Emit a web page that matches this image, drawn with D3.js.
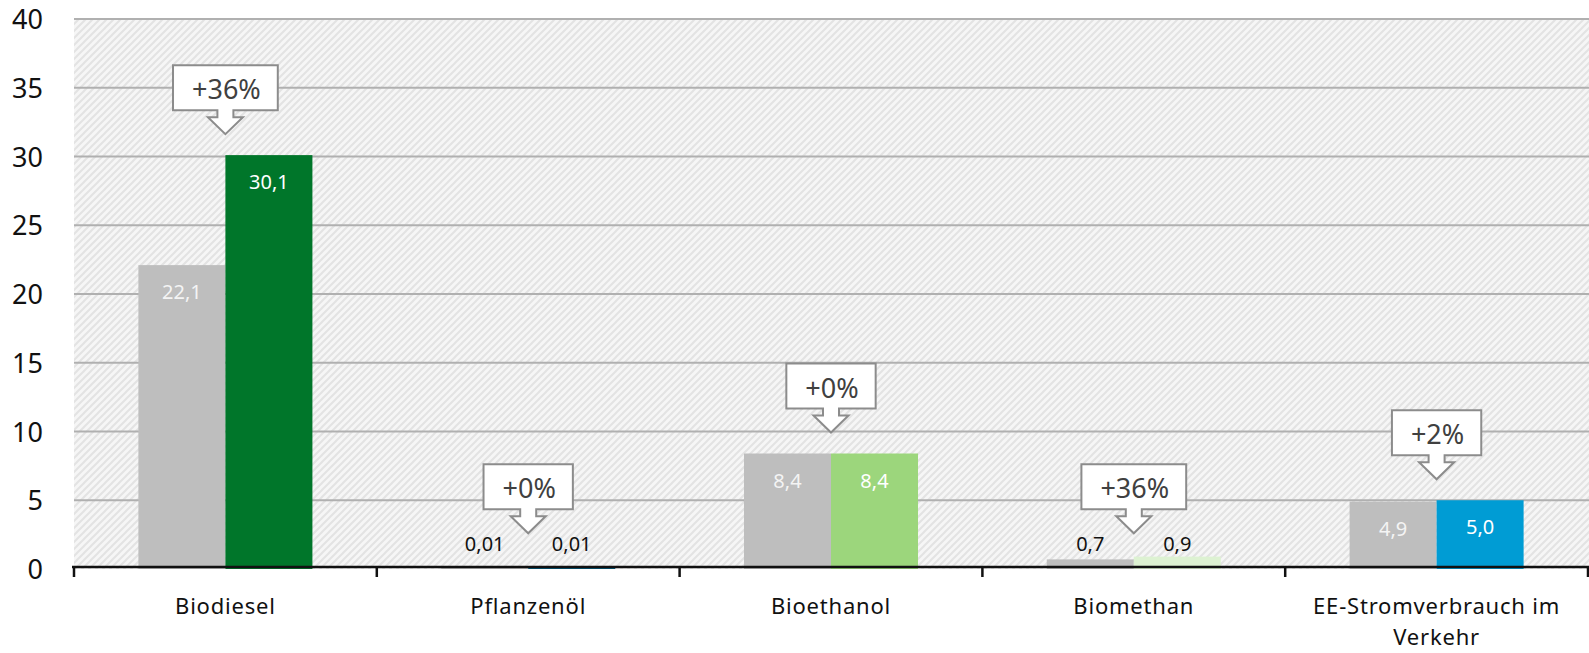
<!DOCTYPE html>
<html>
<head>
<meta charset="utf-8">
<script src="https://cdn.jsdelivr.net/npm/d3@7"></script>
<style>
  body { margin: 0; background: #fff; }
  svg { display: block; font-family: "Noto Sans", "DejaVu Sans", sans-serif; }
</style>
</head>
<body>
<svg id="chart"></svg>
<script>
// data
const categories = ['Biodiesel', 'Pflanzenöl', 'Bioethanol', 'Biomethan', 'EE-Stromverbrauch im Verkehr'];
const valuesPrev = [22.1, 0.01, 8.4, 0.7, 4.9];
const valuesCurr = [30.1, 0.01, 8.4, 0.9, 5.0];
const changes = ['+36%', '+0%', '+0%', '+36%', '+2%'];
const currColors = ['#00762a', '#005b7f', '#9cd67c', '#ddf2d2', '#009cd4'];
const prevColor = '#bebebe';
const yTicks = [0, 5, 10, 15, 20, 25, 30, 35, 40];

const width = 1589, height = 653;
const margin = {top: 19, right: 0, bottom: 84, left: 74};

const svg = d3.select('#chart')
    .attr('width', width)
    .attr('height', height);

const de = d3.formatLocale({decimal: ',', thousands: '.', grouping: [3], currency: ['', ' €']});
const fmt = v => v < 0.1 ? de.format('.2f')(v) : de.format('.1f')(v);

const yScale = d3.scaleLinear()
    .domain([0, 40])
    .range([height - margin.bottom, margin.top]);

const xScale = d3.scaleBand()
    .domain(categories)
    .range([margin.left, width - 1])
    .padding(0);

const xInner = d3.scaleBand()
    .domain(['prev', 'curr'])
    .range([0, xScale.bandwidth()])
    .paddingInner(0)
    .paddingOuter(0.74);

// hatched background
const defs = svg.append('defs');
const pat = defs.append('pattern')
    .attr('id', 'hatch')
    .attr('patternUnits', 'userSpaceOnUse')
    .attr('width', 7)
    .attr('height', 7);
pat.append('rect').attr('width', 7).attr('height', 7).attr('fill', '#f6f6f6');
pat.append('path')
    .attr('d', 'M-1,1 l2,-2 M0,7 l7,-7 M6,8 l2,-2')
    .attr('stroke', '#e3e3e3')
    .attr('stroke-width', 2);

svg.append('rect')
    .attr('x', margin.left)
    .attr('y', yScale(40))
    .attr('width', width - margin.left)
    .attr('height', yScale(0) - yScale(40))
    .attr('fill', 'url(#hatch)');

// gridlines
svg.append('g')
    .selectAll('line')
    .data(yTicks.filter(d => d > 0))
    .enter()
    .append('line')
    .attr('x1', margin.left)
    .attr('x2', width)
    .attr('y1', d => yScale(d))
    .attr('y2', d => yScale(d))
    .attr('stroke', '#b0b0b0')
    .attr('stroke-width', 2);

// y axis labels
svg.append('g')
    .selectAll('text')
    .data(yTicks)
    .enter()
    .append('text')
    .attr('x', 43)
    .attr('y', d => yScale(d) + 10)
    .attr('text-anchor', 'end')
    .attr('font-size', 27)
    .attr('fill', '#111')
    .text(d => d);

// bars
const rows = categories.map((c, i) => ({cat: c, i: i, prev: valuesPrev[i], curr: valuesCurr[i]}));

const groups = svg.append('g')
    .selectAll('g')
    .data(rows)
    .enter()
    .append('g')
    .attr('transform', d => 'translate(' + xScale(d.cat) + ',0)');

const barData = d => [
    {key: 'prev', v: d.prev, color: prevColor, text: '#f4f4f4'},
    {key: 'curr', v: d.curr, color: currColors[d.i], text: '#ffffff'}
];

groups.selectAll('rect')
    .data(barData)
    .enter()
    .append('rect')
    .attr('x', d => xInner(d.key))
    .attr('width', xInner.bandwidth())
    .attr('y', d => Math.min(yScale(d.v), yScale(0) - 2))
    .attr('height', d => Math.max(yScale(0) - yScale(d.v), 2))
    .attr('fill', d => d.color);

// value labels
groups.selectAll('text.val')
    .data(barData)
    .enter()
    .append('text')
    .attr('class', 'val')
    .attr('x', d => xInner(d.key) + xInner.bandwidth() / 2)
    .attr('y', d => d.v > 3 ? yScale(d.v) + 34 : yScale(0) - 18)
    .attr('text-anchor', 'middle')
    .attr('font-size', 20)
    .attr('fill', d => d.v > 3 ? d.text : '#111')
    .text(d => fmt(d.v));

// x axis
const axisY = yScale(0) - 2;
svg.append('line')
    .attr('x1', 72)
    .attr('x2', width)
    .attr('y1', axisY)
    .attr('y2', axisY)
    .attr('stroke', '#111')
    .attr('stroke-width', 2.5);

const bounds = categories.map(c => xScale(c)).concat([xScale.range()[1]]);
svg.append('g')
    .selectAll('line')
    .data(bounds)
    .enter()
    .append('line')
    .attr('x1', d => d)
    .attr('x2', d => d)
    .attr('y1', axisY)
    .attr('y2', axisY + 10)
    .attr('stroke', '#111')
    .attr('stroke-width', 2.5);

// category labels, wrapped to the band width
const catText = svg.append('g')
    .selectAll('text')
    .data(categories)
    .enter()
    .append('text')
    .attr('text-anchor', 'middle')
    .attr('font-size', 22)
    .attr('letter-spacing', 0.8)
    .attr('fill', '#111')
    .attr('x', d => xScale(d) + xScale.bandwidth() / 2)
    .attr('y', 614);

catText.each(function(d) {
    const el = d3.select(this);
    const words = d.split(' ');
    let line = [];
    let tspan = el.append('tspan').attr('x', el.attr('x')).attr('dy', 0);
    words.forEach(w => {
        line.push(w);
        tspan.text(line.join(' '));
        if (tspan.node().getComputedTextLength() > xScale.bandwidth() - 40 && line.length > 1) {
            line.pop();
            tspan.text(line.join(' '));
            line = [w];
            tspan = el.append('tspan').attr('x', el.attr('x')).attr('dy', 31).text(w);
        }
    });
});

// change callouts
const tipLimit = yScale(2.6);
const callouts = svg.append('g')
    .selectAll('g')
    .data(rows)
    .enter()
    .append('g');

callouts.each(function(d) {
    const g = d3.select(this);
    const cx = xScale(d.cat) + xScale.bandwidth() / 2;
    const tip = Math.min(yScale(Math.max(d.prev, d.curr)) - 21, tipLimit);
    const bottom = tip - 24;
    const top = bottom - 45;

    const path = g.append('path');
    const label = g.append('text')
        .attr('x', cx + 1)
        .attr('y', bottom - 11)
        .attr('text-anchor', 'middle')
        .attr('font-size', 27)
        .attr('fill', '#404040')
        .text(changes[d.i]);

    const w = label.node().getComputedTextLength() + 36;
    const p = d3.path();
    p.moveTo(cx - w / 2, top);
    p.lineTo(cx + w / 2, top);
    p.lineTo(cx + w / 2, bottom);
    p.lineTo(cx + 8, bottom);
    p.lineTo(cx + 8, bottom + 7);
    p.lineTo(cx + 17.5, bottom + 7);
    p.lineTo(cx, tip);
    p.lineTo(cx - 17.5, bottom + 7);
    p.lineTo(cx - 8, bottom + 7);
    p.lineTo(cx - 8, bottom);
    p.lineTo(cx - w / 2, bottom);
    p.closePath();

    path.attr('d', p.toString())
        .attr('fill', '#ffffff')
        .attr('stroke', '#8c8c8c')
        .attr('stroke-width', 2);
});
</script>
</body>
</html>
